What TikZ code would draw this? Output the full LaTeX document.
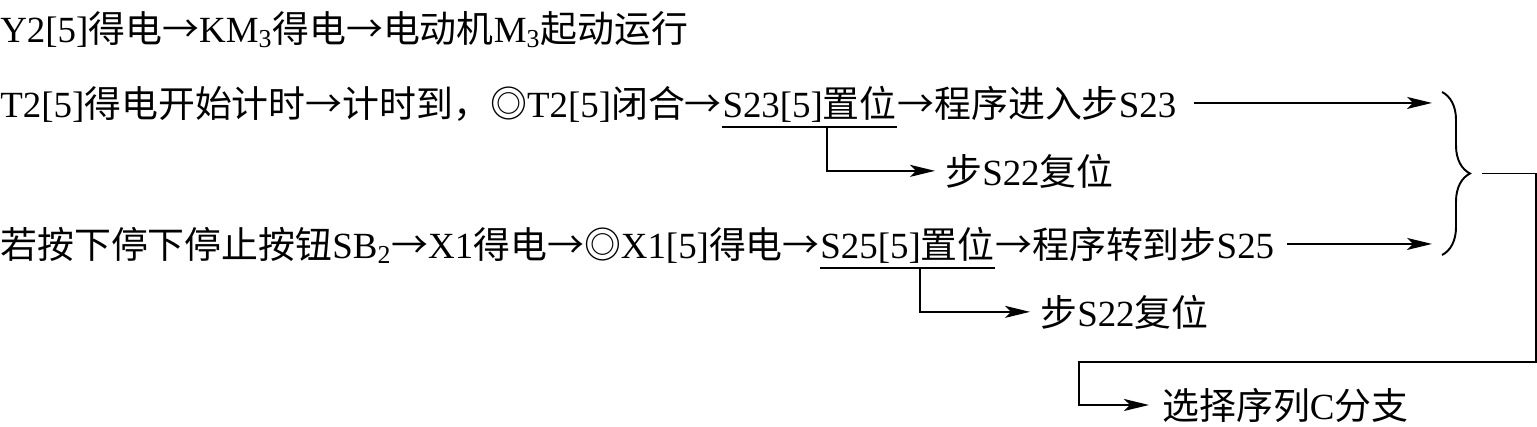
\documentclass[tikz,border=0pt]{standalone}
\usepackage{fontspec}
\setmainfont{Liberation Serif}
\newfontfamily\cjk{Noto Sans CJK SC}
\newcommand{\zh}[1]{{\cjk #1}}
\usetikzlibrary{positioning, arrows.meta, calc, decorations.pathreplacing}

\begin{document}
\begin{tikzpicture}[
    x=0.02cm, y=-0.02cm,
    node distance=0pt,
    txt/.style={inner sep=0pt, font=\fontsize{21}{25}\selectfont},
    ln/.style={line width=1.1pt},
    arr/.style={ln, -{Stealth[length=0.5cm, width=0.24cm, inset=0.12cm]}}
  ]
  \useasboundingbox (0,0) rectangle (1537,426);
  \node[txt, anchor=base west] (l1) at (0,42) {Y2[5]\zh{得电→}KM\textsubscript{3}\zh{得电→电动机}M\textsubscript{3}\zh{起动运行}};
  \node[txt, anchor=base west] (l2a) at (0,117) {T2[5]\zh{得电开始计时→计时到，◎}T2[5]\zh{闭合→}};
  \node[txt, base right=of l2a] (s23) {S23[5]\zh{置位}};
  \node[txt, base right=of s23] (l2b) {\zh{→程序进入步}S23};
  \node[txt, anchor=base west] (r23) at (945,185) {\zh{步}S22\zh{复位}};
  \node[txt, anchor=base west] (l3a) at (0,258) {\zh{若按下停下停止按钮}SB\textsubscript{2}\zh{→}X1\zh{得电→◎}X1[5]\zh{得电→}};
  \node[txt, base right=of l3a] (s25) {S25[5]\zh{置位}};
  \node[txt, base right=of s25] (l3b) {\zh{→程序转到步}S25};
  \node[txt, anchor=base west] (r25) at (1040,326) {\zh{步}S22\zh{复位}};
  \node[txt, anchor=base west] (sel) at (1162,419) {\zh{选择序列}C\zh{分支}};
  \coordinate (btop) at (1442,92);
  \coordinate (bbot) at (1442,255);
  \coordinate (btip) at ($(btop)!0.5!(bbot)+(28,0)$);
  \coordinate (c1) at (1536,362);
  \coordinate (c2) at (1079,362);
  \draw[ln] ([yshift=-0.2cm]s23.base west) -- ([yshift=-0.2cm]s23.base east);
  \draw[ln] ([yshift=-0.2cm]s25.base west) -- ([yshift=-0.2cm]s25.base east);
  \coordinate (u23) at ($([yshift=-0.2cm]s23.base west)!0.6!([yshift=-0.2cm]s23.base east)$);
  \coordinate (u25) at ($([yshift=-0.2cm]s25.base west)!0.57!([yshift=-0.2cm]s25.base east)$);
  \draw[arr] (u23) |- ([xshift=-0.2cm]r23.west);
  \draw[arr] (u25) |- ([xshift=-0.2cm]r25.west);
  \draw[arr] ([xshift=0.34cm]l2b.east) -- ([xshift=-0.2cm]l2b.east -| btop);
  \draw[arr] ([xshift=0.24cm]l3b.east) -- ([xshift=-0.2cm]l3b.east -| btop);
  \draw[ln, decorate, decoration={brace, amplitude=0.56cm}] (btop) -- (bbot);
  \draw[arr] ([xshift=0.24cm]btip) -| (c1) -- (c2) |- ([xshift=-0.26cm]sel.west);
\end{tikzpicture}
\end{document}
